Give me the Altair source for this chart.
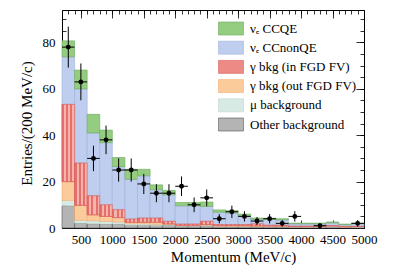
import altair as alt
import pandas as pd
import numpy as np

# ---- data ----
bin_low = [200, 400, 600, 800, 1000, 1200, 1400, 1600, 1800, 2000, 2200, 2400,
           2600, 2800, 3000, 3200, 3400, 3600, 3800, 4000, 4200, 4400, 4600, 4800]
bin_width = 200
other_bkg = [9.6, 2.1, 1.8, 1.7, 1.7, 1.2, 1.2, 1.1, 1.2, 0.8, 0.8, 1.0,
             0.6, 0.6, 0.6, 0.5, 0.5, 0.5, 0.4, 0.4, 0.4, 0.4, 0.3, 0.3]
mu_bkg = [2.3, 1.2, 1.3, 1.1, 0.9, 0.6, 0.6, 0.5, 0.3, 0.2, 0.2, 0.2,
          0.2, 0.2, 0.2, 0.2, 0.2, 0.2, 0.1, 0.1, 0.1, 0.4, 0.1, 0.2]
gamma_out = [8.1, 6.5, 2.6, 2.2, 1.9, 0.7, 0.7, 0.9, 0.3, 0.2, 0.2, 0.3,
             0.2, 0.2, 0.2, 0.2, 0.2, 0.2, 0.1, 0.1, 0.1, 0.1, 0.1, 0.1]
gamma_in = [33.3, 18.2, 8.2, 5.0, 3.4, 1.4, 1.8, 1.8, 1.1, 0.5, 0.5, 1.4,
            0.5, 0.5, 0.5, 0.9, 0.3, 0.3, 0.2, 0.2, 0.2, 0.1, 0.1, 0.1]
ccnonqe = [20.5, 32.0, 27.1, 26.8, 18.6, 17.1, 18.2, 12.2, 11.4, 7.9, 7.9, 6.4,
           5.3, 5.0, 3.8, 2.0, 2.5, 2.3, 1.0, 1.0, 0.9, 1.2, 0.8, 1.1]
ccqe = [6.9, 8.1, 8.0, 5.4, 3.9, 4.3, 2.8, 2.1, 1.9, 1.4, 1.4, 1.9,
        1.0, 1.0, 0.7, 0.5, 0.5, 0.5, 0.3, 0.3, 0.4, 0.4, 0.3, 0.3]
data_counts = [78, 63, 30, 38, 25, 25, 19, 15, 15, 18, 10, 13,
               4, 7, 5, 3, 4, 2, 5, 0, 1, 0, 0, 2]

labels = ["\u03bd\u2091 CCQE", "\u03bd\u2091 CCnonQE", "\u03b3 bkg (in FGD FV)",
          "\u03b3 bkg (out FGD FV)", "\u03bc background", "Other background"]
fills = ["#95cd80", "#bfcdee", "#ec8a85", "#fccb9c", "#d8eae4", "#b4b4b4"]
strokes = ["#6aa85a", "#9fb2de", "#d9605c", "#f2ad72", "#bcd6cd", "#555555"]

x_major = [500, 1000, 1500, 2000, 2500, 3000, 3500, 4000, 4500, 5000]
x_minor = list(range(200, 5001, 100))
y_major = [0, 20, 40, 60, 80]
y_minor = list(range(0, 95, 5))

# ---- build tables ----
stack_vals = [other_bkg, mu_bkg, gamma_out, gamma_in, ccnonqe, ccqe]
stack_names = labels[::-1]
rows = []
for i, lo in enumerate(bin_low):
    base = 0.0
    for k, (name, vals) in enumerate(zip(stack_names, stack_vals)):
        v = vals[i]
        rows.append(dict(lo=lo, hi=lo + bin_width, comp=name, y0=base, y1=base + v))
        base += v
mc = pd.DataFrame(rows)

d = pd.DataFrame(dict(lo=bin_low, n=data_counts))
d["hi"] = d["lo"] + bin_width
d["mid"] = d["lo"] + bin_width / 2
d = d[d["n"] > 0].copy()
d["elo"] = d["n"] - np.sqrt(d["n"])
d["ehi"] = d["n"] + np.sqrt(d["n"])

W, H = 302, 218
FONT = "Liberation Serif"
xs = alt.Scale(domain=[200, 5000], nice=False, zero=False)
ys = alt.Scale(domain=[0, 94], nice=False, zero=False)

bars = alt.Chart(mc).mark_rect(strokeWidth=0.6).encode(
    x=alt.X("lo:Q", scale=xs, axis=alt.Axis(
        orient="bottom", values=x_major, format="d", labelOverlap=False, labelFlush=False,
        ticks=False, tickSize=0, domain=False, grid=False,
        labelFont=FONT, labelFontSize=13, labelPadding=5, labelColor="black",
        title="Momentum (MeV/c)", titleFont=FONT, titleFontSize=15, titleFontWeight="normal",
        titleColor="black", titleX=171, titleY=33, titleAlign="center", titleBaseline="alphabetic")),
    x2="hi:Q",
    y=alt.Y("y0:Q", scale=ys, axis=alt.Axis(
        orient="left", values=y_major, format="d", labelOverlap=False, labelFlush=False,
        ticks=False, tickSize=0, domain=False, grid=False,
        labelFont=FONT, labelFontSize=13, labelPadding=7, labelColor="black",
        title="Entries/(200 MeV/c)", titleFont=FONT, titleFontSize=15, titleFontWeight="normal",
        titleColor="black", titleX=-31, titleY=113, titleAlign="center", titleBaseline="alphabetic")),
    y2="y1:Q",
    color=alt.Color("comp:N", scale=alt.Scale(domain=labels, range=fills), legend=alt.Legend(
        title=None, orient="none", legendX=162, legendY=11.5,
        symbolType="M-1.92,-1H1.92V1H-1.92Z", symbolSize=169,
        symbolStrokeColor="#555555", symbolStrokeWidth=0.6, symbolOpacity=1,
        labelFont=FONT, labelFontSize=13, labelColor="black", labelOffset=12,
        labelLimit=300, rowPadding=3.2)),
    stroke=alt.Stroke("comp:N", scale=alt.Scale(domain=labels, range=strokes), legend=None),
)

red = "#e4706c"
pink = "#f5b3ab"
stops = []
for j in range(3):
    a = j / 3.0
    stops += [alt.GradientStop(color=red, offset=a), alt.GradientStop(color=red, offset=a + 1 / 6.0),
              alt.GradientStop(color=pink, offset=a + 1 / 6.0), alt.GradientStop(color=pink, offset=a + 1 / 3.0)]
grad = alt.LinearGradient(gradient="linear", stops=stops, x1=0, x2=1, y1=0, y2=0)

red_layer = alt.Chart(mc[mc["comp"] == labels[2]]).mark_rect(
    fill=grad, stroke="#d9605c", strokeWidth=0.6).encode(
    x=alt.X("lo:Q", scale=xs, axis=None), x2="hi:Q",
    y=alt.Y("y0:Q", scale=ys, axis=None), y2="y1:Q")


def tick_layer(xorient, xoff, yorient, yoff, xv, yv, size):
    return alt.Chart(mc).mark_point(opacity=0).encode(
        x=alt.X("lo:Q", scale=xs, axis=alt.Axis(
            orient=xorient, offset=xoff, values=xv, labels=False, domain=False, grid=False,
            tickSize=size, tickColor="black", tickWidth=0.8, title=None)),
        y=alt.Y("y1:Q", scale=ys, axis=alt.Axis(
            orient=yorient, offset=yoff, values=yv, labels=False, domain=False, grid=False,
            tickSize=size, tickColor="black", tickWidth=0.8, title=None)),
    )


t1 = tick_layer("top", -H, "right", -W, x_major, y_major, 8)
t2 = tick_layer("top", -H, "right", -W, x_minor, y_minor, 4)
t3 = tick_layer("bottom", -H, "left", -W, x_major, y_major, 8)
t4 = tick_layer("bottom", -H, "left", -W, x_minor, y_minor, 4)

ebar_v = alt.Chart(d).mark_rule(color="black", strokeWidth=1).encode(
    x=alt.X("mid:Q", scale=xs, axis=None),
    y=alt.Y("elo:Q", scale=ys, axis=None), y2="ehi:Q")
ebar_h = alt.Chart(d).mark_rule(color="black", strokeWidth=1).encode(
    x=alt.X("lo:Q", scale=xs, axis=None), x2="hi:Q",
    y=alt.Y("n:Q", scale=ys, axis=None))
pts = alt.Chart(d).mark_circle(color="black", size=24, opacity=1).encode(
    x=alt.X("mid:Q", scale=xs, axis=None),
    y=alt.Y("n:Q", scale=ys, axis=None))

chart = alt.layer(bars, red_layer, t1, t2, t3, t4, ebar_v, ebar_h, pts).resolve_axis(
    x="independent", y="independent"
).properties(
    width=W, height=H,
    padding={"left": 54, "top": 2, "right": 22, "bottom": 40},
    autosize=alt.AutoSizeParams(type="none"),
    background="white",
).configure_view(stroke="black", strokeWidth=1)

chart.save("out.html", embed_options={"renderer": "svg", "actions": False})
